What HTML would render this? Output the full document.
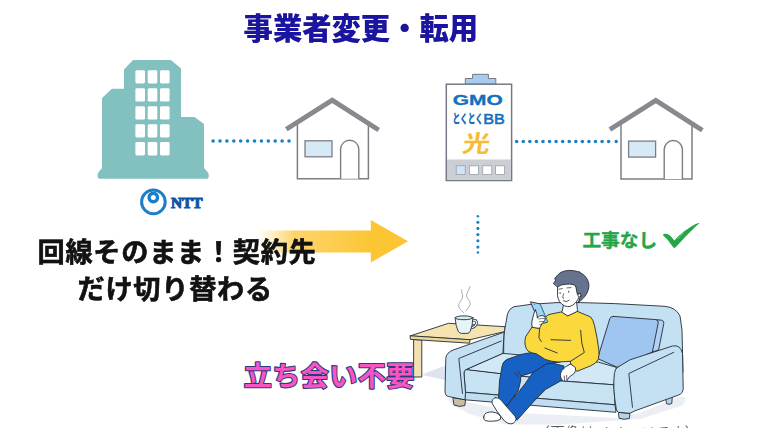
<!DOCTYPE html>
<html lang="ja">
<head>
<meta charset="utf-8">
<title>事業者変更・転用</title>
<style>
html,body{margin:0;padding:0;background:#fff;}
body{width:760px;height:428px;overflow:hidden;position:relative;font-family:"Liberation Sans","Noto Sans CJK JP",sans-serif;}
svg{position:absolute;left:0;top:0;display:block;}
.jp{font-family:"Liberation Sans","Noto Sans CJK JP",sans-serif;}
</style>
</head>
<body>
<svg width="760" height="428" viewBox="0 0 760 428">
<defs>
<linearGradient id="arrowg" x1="258" y1="0" x2="372" y2="0" gradientUnits="userSpaceOnUse">
<stop offset="0" stop-color="#fdd567" stop-opacity="0"/>
<stop offset="0.32" stop-color="#fdd05a" stop-opacity="0.9"/>
<stop offset="1" stop-color="#fbc534" stop-opacity="1"/>
</linearGradient>
</defs>
<rect width="760" height="428" fill="#ffffff"/>

<!-- NTT office building -->
<g id="ntt-building" fill="#83c0c0">
<path d="M102 170 L102 98 L112 88.8 L124 88.8 L124 69.5 L133 60 L171 60 L181 68.5 L181 117 L194.5 117 L204 124 L204 170 Z"/>
<path d="M101.5 168.5 L204.5 168.5 L208.3 173 Q209.8 178.8 206.5 178.8 L100 178.8 Q96.6 178.8 98 173 Z"/>
</g>
<g id="ntt-windows" fill="#ffffff">
<rect x="135.4" y="70.2" width="9.6" height="13.3" rx="1.4"/><rect x="147.7" y="70.2" width="9.6" height="13.3" rx="1.4"/><rect x="160" y="70.2" width="9.6" height="13.3" rx="1.4"/>
<rect x="135.4" y="88.3" width="9.6" height="13.3" rx="1.4"/><rect x="147.7" y="88.3" width="9.6" height="13.3" rx="1.4"/><rect x="160" y="88.3" width="9.6" height="13.3" rx="1.4"/>
<rect x="135.4" y="106.3" width="9.6" height="13.3" rx="1.4"/><rect x="147.7" y="106.3" width="9.6" height="13.3" rx="1.4"/><rect x="160" y="106.3" width="9.6" height="13.3" rx="1.4"/>
<rect x="135.4" y="124.2" width="9.6" height="13.3" rx="1.4"/><rect x="147.7" y="124.2" width="9.6" height="13.3" rx="1.4"/><rect x="160" y="124.2" width="9.6" height="13.3" rx="1.4"/>
<rect x="135.4" y="142.1" width="9.6" height="13.3" rx="1.4"/><rect x="147.7" y="142.1" width="9.6" height="13.3" rx="1.4"/><rect x="160" y="142.1" width="9.6" height="13.3" rx="1.4"/>
</g>

<!-- NTT logo -->
<g id="ntt-logo">
<circle cx="153.4" cy="201.9" r="11.8" fill="none" stroke="#1a7fc6" stroke-width="3"/>
<circle cx="153.3" cy="197.5" r="4.2" fill="none" stroke="#1a7fc6" stroke-width="3.4"/>
<text x="170.9" y="207.7" font-family="'Liberation Serif',serif" font-weight="700" font-size="15.6" fill="#0c55a8" stroke="#0c55a8" stroke-width="1.1" stroke-linejoin="round" textLength="31.6" lengthAdjust="spacingAndGlyphs">NTT</text>
</g>

<!-- dotted links -->
<g id="links" fill="#1a80c6">
<circle cx="213.10" cy="141" r="1.8"/><circle cx="220.00" cy="141" r="1.8"/><circle cx="226.90" cy="141" r="1.8"/><circle cx="233.80" cy="141" r="1.8"/><circle cx="240.70" cy="141" r="1.8"/><circle cx="247.60" cy="141" r="1.8"/><circle cx="254.50" cy="141" r="1.8"/><circle cx="261.40" cy="141" r="1.8"/><circle cx="268.30" cy="141" r="1.8"/><circle cx="275.20" cy="141" r="1.8"/><circle cx="282.10" cy="141" r="1.8"/><circle cx="289.00" cy="141" r="1.8"/>
<circle cx="516.70" cy="141.4" r="1.75"/><circle cx="523.27" cy="141.4" r="1.75"/><circle cx="529.83" cy="141.4" r="1.75"/><circle cx="536.40" cy="141.4" r="1.75"/><circle cx="542.96" cy="141.4" r="1.75"/><circle cx="549.53" cy="141.4" r="1.75"/><circle cx="556.09" cy="141.4" r="1.75"/><circle cx="562.66" cy="141.4" r="1.75"/><circle cx="569.22" cy="141.4" r="1.75"/><circle cx="575.79" cy="141.4" r="1.75"/><circle cx="582.35" cy="141.4" r="1.75"/><circle cx="588.92" cy="141.4" r="1.75"/><circle cx="595.48" cy="141.4" r="1.75"/><circle cx="602.05" cy="141.4" r="1.75"/><circle cx="608.61" cy="141.4" r="1.75"/><circle cx="616.2" cy="141.4" r="1.75"/>
<circle cx="477.9" cy="216.2" r="1.25"/><circle cx="477.9" cy="222.2" r="1.55"/><circle cx="477.9" cy="228.4" r="1.55"/><circle cx="477.9" cy="234.6" r="1.55"/><circle cx="477.9" cy="240.8" r="1.55"/><circle cx="477.9" cy="247.1" r="1.55"/><circle cx="477.9" cy="252.6" r="1.25"/>
</g>

<!-- house 1 -->
<g id="house1">
<path d="M297.4 124 V178.8 H368.4 V124" fill="#fff" stroke="#7d7d86" stroke-width="1.5"/>
<path d="M286.3 129.2 L332.2 100.1 L378.7 130" fill="none" stroke="#88888f" stroke-width="4.9" stroke-linejoin="miter"/>
<rect x="305" y="140.8" width="27" height="16" fill="#d6e9f6" stroke="#7d7d86" stroke-width="1.3"/>
<path d="M340.6 178.8 V149.3 A9.1 9.1 0 0 1 358.8 149.3 V178.8" fill="#fff" stroke="#7d7d86" stroke-width="1.4"/>
</g>
<!-- house 2 -->
<g id="house2" transform="translate(323.6,0.3)">
<path d="M297.4 124 V178.8 H368.4 V124" fill="#fff" stroke="#7d7d86" stroke-width="1.5"/>
<path d="M286.3 129.2 L332.2 100.1 L378.7 130" fill="none" stroke="#88888f" stroke-width="4.9" stroke-linejoin="miter"/>
<rect x="305" y="140.8" width="27" height="16" fill="#d6e9f6" stroke="#7d7d86" stroke-width="1.3"/>
<path d="M340.6 178.8 V149.3 A9.1 9.1 0 0 1 358.8 149.3 V178.8" fill="#fff" stroke="#7d7d86" stroke-width="1.4"/>
</g>

<!-- GMO building -->
<g id="gmo-building">
<path d="M465.3 84.2 V78.5 H472.6 V74.3 H488.4 V78.5 H495.8 V84.2 Z" fill="#a9cbee" stroke="#757a84" stroke-width="1"/>
<rect x="446.3" y="84.2" width="65.3" height="96.3" fill="#fff" stroke="#757a84" stroke-width="1.5"/>
<rect x="447" y="159.5" width="63.9" height="20.3" fill="#cbced4"/>
<rect x="456.2" y="165.8" width="9" height="8.6" fill="#cfe4f8" stroke="#9aa0aa" stroke-width="0.8"/>
<rect x="469.5" y="165.8" width="9" height="8.6" fill="#fff" stroke="#9aa0aa" stroke-width="0.8"/>
<rect x="482.7" y="165.8" width="9" height="8.6" fill="#fff" stroke="#9aa0aa" stroke-width="0.8"/>
<rect x="495.6" y="165.8" width="8.8" height="8.6" fill="#fff" stroke="#9aa0aa" stroke-width="0.8"/>
<text x="452.8" y="105.2" font-family="'Liberation Sans',sans-serif" font-weight="700" font-size="13.8" fill="#156fbb" stroke="#156fbb" stroke-width="0.3" textLength="50" lengthAdjust="spacingAndGlyphs">GMO</text>
<text x="452.4" y="123.4" class="jp" font-weight="900" font-size="12.6" fill="#156fbb" textLength="30.6" lengthAdjust="spacingAndGlyphs">とくとく</text>
<text x="483.2" y="124.4" font-family="'Liberation Sans',sans-serif" font-weight="400" font-size="14.6" fill="#156fbb" stroke="#156fbb" stroke-width="0.55" textLength="21.6" lengthAdjust="spacingAndGlyphs">BB</text>
<text x="0" y="0" class="jp" font-weight="700" font-size="23.5" fill="#f7bb36" transform="translate(461.6,152) skewX(-9) scale(1.17,1)">光</text>
</g>

<!-- arrow -->
<g id="arrow">
<rect x="256" y="230.5" width="116" height="22" fill="url(#arrowg)"/>
<path d="M370.8 220 L408 241.3 L370.8 262.5 Z" fill="#fbc534"/>
</g>

<!-- living room scene -->
<g id="scene" stroke="#232c38" stroke-width="0.9" stroke-linejoin="round" stroke-linecap="round">
<!-- floor shadow -->
<path d="M421.4 374.8 L446 365.2 L446 380.2 Z" fill="#dfe3f0" stroke="none"/>
<path d="M447 398 L466 402 L520 413 L618 418 L640 413 L678 397 L685 397 Q687 402 681 406 L640 419 L560 424.5 L505 424.5 L470 414 L452 405 Z" fill="#eceef6" stroke="none"/>
<!-- side table -->
<path d="M414 339.5 L421.8 340 L421.8 377 L414 377 Z" fill="#f2e0b0"/>
<path d="M410.5 335.8 L448.5 323.3 L505 326.7 L505 331.5 L470 339.7 Z" fill="#f5e3b0"/>
<path d="M410.5 335.8 L470 339.7 L469.6 343.2 L410.8 339.4 Z" fill="#edd596"/>
<!-- cup -->
<path d="M472.4 320.2 Q477 319.6 476.4 323.4 Q475.8 326.8 471.8 327.6" fill="none" stroke-width="2.8"/>
<path d="M472.4 320.2 Q477 319.6 476.4 323.4 Q475.8 326.8 471.8 327.6" fill="none" stroke="#eef7f8" stroke-width="1.2"/>
<path d="M455.1 317.9 Q455.6 326 458.2 331.3 Q459 333.2 461.5 333.4 L467 333.4 Q469.4 333.2 470.2 331.3 Q472.6 326 472.9 317.9 Z" fill="#e7f4f6"/>
<ellipse cx="464" cy="317.8" rx="8.9" ry="1.9" fill="#dbeef3"/>
<path d="M463.8 312.9 C460 309 457.5 307 459.2 303.5 C461 300 463.5 298 462.4 294.5 C461.6 292.5 461.4 291 461.8 289.6" fill="none" stroke="#84898f" stroke-width="0.7"/>
<path d="M465.9 310.8 C468 308 471 306 470 302.5 C469 299 465.6 297.5 466.8 294 C467.8 291 469.6 289 470.1 286.3" fill="none" stroke="#84898f" stroke-width="0.7"/>

<!-- sofa back -->
<path d="M503.5 372 L503.8 335 L507.5 313.8 Q509 308.5 514 306.6 L520 305.9 L531 304.3 L557 302.6 L580.5 302.6 L614.6 303.6 L665 306.3 Q676 307.5 680 316 L682 330 L683 372 Z" fill="#c4e1f3"/>
<!-- back cushion -->
<path d="M655.6 319.6 L661.5 320.2 Q664.4 320.8 663.8 323.6 L658.6 350 L652.4 352 Z" fill="#b3d1f3"/>
<path d="M613.5 316.4 L655.6 319.6 Q658.8 320 658.2 323 L652.4 352 L617.5 367.4 L597.6 358.6 L609.8 318.6 Q610.6 316.2 613.5 316.4 Z" fill="#9fc6f1"/>
<!-- seat -->
<path d="M502.5 353.5 L465.5 369.8 L562.5 381 L613.8 384.8 L616.3 367.3 L598.8 362.3 Z" fill="#d2e8f6"/>
<path d="M465.5 369.8 Q463.6 371.5 464 374 L465.5 392.3 L615 404.8 L613.8 384.8 L562.5 381 Z" fill="#c8e3f4"/>
<path d="M465.5 392.3 L615 404.8 L616 412.3 L465 399.8 Z" fill="#c0ddf1"/>
<!-- left foot of sofa -->
<path d="M453.2 397.6 L465.6 399.8 L464.8 405.6 Q459.5 407.4 454.4 405.2 Z" fill="#cbbda2"/>
<!-- left arm -->
<path d="M503.8 332.3 L475 342.3 L453.8 349.8 Q446 352.6 445.8 358.5 L445 391 Q445 396 448.8 396.6 L465 399.8 L465.5 392.3 L464 374 Q463.6 371.5 465.5 369.8 L502.5 353.5 Z" fill="#c4e1f3"/>
<path d="M501.3 341 L458.8 358.5 L462.5 393.5" fill="none"/>
<!-- right feet -->
<path d="M618.8 412.4 L630 413.4 L629.4 418.4 Q624 420.2 619.4 418.4 Z" fill="#b9d3e6"/>
<path d="M666 397.2 L672.4 395.4 L671.8 403.4 Q669 405.2 666.8 403.8 Z" fill="#b9d3e6"/>
<!-- right arm -->
<path d="M617.5 367.3 L630 359.8 L672.5 346 Q680.5 344.4 682.5 353.5 L683.2 388.5 Q683 393.6 678.6 395 L635 410.8 L630 413.3 L618.4 412.3 Q616.6 411.6 616.2 408.5 Q612.6 388 614.4 373.5 Q615 369 617.5 367.3 Z" fill="#c4e1f3"/>
<path d="M673.8 352.3 L628.8 373.5 L632.5 407.3" fill="none"/>

<!-- person : legs -->
<path d="M548 362 L564 366 L562.2 380.1 L545.8 389.3 L533.5 401.7 L517 420.2 L505.7 406.8 L519.6 390.7 L525.2 383.6 L533 372.4 Z" fill="#1761c4"/>
<path d="M540 351 L521.1 354.4 L506.7 359.5 Q502.6 362 502.2 365.7 L499.5 381.1 L498.5 398.6 L506.7 405.8 L518.2 390.7 L520.3 382.2 L521 376 L533 372.4 L546.3 364 L560 362 Z" fill="#1761c4"/>
<path d="M514.7 372.4 L518.2 376.6 M518.2 371.7 L521 375.4" fill="none" stroke-width="0.7"/>
<!-- feet -->
<path d="M483.7 417.1 Q483.8 414 486.2 413 Q489.5 411.6 492.3 412 Q496 412.5 498.5 414 Q501.5 416.5 500.6 419.2 Q497 421.4 492.3 421.2 Q488 421.4 485.1 420.6 Q483.4 419.4 483.7 417.1 Z" fill="#ffffff"/>
<path d="M495.4 397.6 Q498.6 397.6 500.6 399.6 L506.7 406.8 L515 416.1 Q517 419 515.4 421.2 Q513.6 423.8 510.8 423.9 Q507.5 423.6 504.7 421.2 L497.5 412 L492.3 403.7 Q491 399.2 495.4 397.6 Z" fill="#ffffff"/>
<!-- neck -->
<path d="M563.5 305 L562.2 311.2 L561.2 312.4 L568 316.2 L577.6 311.6 L577.4 309.6 L576.6 302 Z" fill="#ffffff"/>
<!-- sweater -->
<path d="M561 312 L549 314.5 Q546.5 315.6 545.2 317.7 L540.5 326 L532 327.1 L525.7 336.6 Q524.6 340.5 525 344.2 Q525.6 348.5 528 351 Q531.5 353.4 536 353.6 L545.2 359.4 Q551 361.6 557.8 362 L570.5 361.3 L570.5 363.2 L576.8 371.4 L590.7 365.8 Q596.5 363.4 598.2 359.4 Q599.4 355 598.9 350.6 L597 337.8 L594.4 325.2 Q593 319.5 590.7 317 L577.4 311.4 L568 315.8 Z" fill="#fbd93c"/>
<path d="M580.6 330.3 L581.8 343 L584.3 352.5 L570.5 361.3" fill="none"/>
<path d="M551 339.7 L570.5 340.4" fill="none"/>
<path d="M544.8 348 L557.2 353" fill="none"/>
<path d="M539.6 328.4 L538.9 337.8 L541.4 341.6" fill="none"/>
<path d="M532 327.1 L539.8 328.4" fill="none"/>
<!-- right hand -->
<path d="M570.5 363.9 L575.5 367.6 Q576.2 370.6 574.3 373.3 L569.2 377.1 L566.7 380.9 Q564.8 381.8 562.9 380.9 Q560.6 378.6 560.4 375.8 Q560.4 373 561.6 370.8 Q565 366.4 570.5 363.9 Z" fill="#ffffff"/>
<path d="M564.2 376 L564.6 380.6 M566.6 375.4 L566.8 379.6" fill="none" stroke-width="0.7"/>
<!-- phone -->
<path d="M530.8 301.9 L539.2 303.7 Q540.2 304 540.6 305 L547.8 322 L543.8 323.2 L538.4 320 Z" fill="#a3d4f1"/>
<path d="M539.2 303.7 Q540.2 304 540.6 305 L547.8 322 L546.9 322.3 L539.4 304.6 Z" fill="#5fb0e6" stroke="none"/>
<circle cx="534.6" cy="304.5" r="0.55" fill="#3b6ea8" stroke="none"/>
<!-- left hand -->
<path d="M535.5 309.9 Q533.6 313 533 317 Q531.6 321 531.7 325 L532.6 327.4 L539.4 328.4 Q541 325 543 322.4 Q545.6 320.6 545.1 319.1 Q545.5 317 544.3 316.2 Q542 315 539.5 316 Q538 316.6 537.4 318.2 Q537.2 313.5 535.5 309.9 Z" fill="#ffffff"/>
<path d="M538.6 319 Q541.4 317.8 544.6 318.6 M539.2 321.8 Q541.4 320.8 543.8 321.6 M539.6 324.6 Q540.8 324 542 324.2" fill="none" stroke-width="0.6"/>
<!-- head -->
<path d="M557.6 286.6 L557.5 295.5 Q558 299 559.4 301.4 Q561.5 304.5 564.7 305.9 Q567.5 307 570 306.4 Q573 305.4 575.2 303.1 Q577 301.4 578.1 299 L580 295 L578 287 L574 283 L560 284 Z" fill="#ffffff"/>
<circle cx="579.6" cy="295.2" r="1.7" fill="#ffffff"/>
<path d="M553.6 283.3 L555.5 280.6 L554.8 278.6 Q555.6 276.8 557.1 275.7 Q558.8 273.6 561.2 272.2 Q565 270.4 569.4 270.4 Q573.8 270.4 577.5 271.6 L579.8 271.9 L580.6 273 Q583 274 584.6 275.7 Q587.6 278.6 588.6 282.7 Q589.4 286.4 588.3 289.7 Q587.2 293.4 585.1 296.1 Q583.4 298.4 581 300.2 L578.1 303.1 L579.9 297.9 Q581.8 296.4 581 294.4 Q580 293 578.4 293.6 L577.5 294.6 L576.6 290.9 Q576.4 286.6 574.6 285 Q572 284.1 569.4 284.1 Q565 284.1 561.2 285 L557.7 286.8 Z" fill="#65738f"/>
<ellipse cx="560.1" cy="293.1" rx="0.55" ry="1" fill="#232c38" stroke="none"/>
<ellipse cx="568.8" cy="291.7" rx="0.55" ry="1" fill="#232c38" stroke="none"/>
<path d="M558.9 289.2 L562.4 288.5 M567 287.9 L571.1 287.6" fill="none" stroke-width="0.7"/>
<path d="M563.5 293.8 L562.7 297.8 L563.8 298.3" fill="none" stroke-width="0.7"/>
<path d="M563.4 300.8 Q566 302.8 569.2 300.4" fill="none" stroke-width="0.8"/>
</g>
<!-- caption cut by the bottom edge -->
<text x="535.2" y="438.3" class="jp" font-weight="300" font-size="14.5" fill="#333" textLength="164" lengthAdjust="spacing">（画像はイメージです）</text>

<!-- headline texts -->
<g id="texts" class="jp">
<text x="243.6" y="39" font-weight="900" font-size="29.3" fill="#1b14a0" style="filter:drop-shadow(0.6px 0.8px 0.6px rgba(60,60,90,0.45))">事業者変更・転用</text>
<text x="37.6" y="261.5" font-weight="700" font-size="27.2" letter-spacing="0.7" fill="#121212" stroke="#121212" stroke-width="0.5" style="filter:drop-shadow(0.6px 0.8px 0.7px rgba(60,60,60,0.4))">回線そのまま！契約先</text>
<text x="77.6" y="299.4" font-weight="700" font-size="27.2" letter-spacing="0.7" fill="#121212" stroke="#121212" stroke-width="0.5" style="filter:drop-shadow(0.6px 0.8px 0.7px rgba(60,60,60,0.4))">だけ切り替わる</text>
<text x="582.4" y="246.8" font-weight="700" font-size="18.7" fill="#25a646" stroke="#25a646" stroke-width="0.4">工事なし</text>
<text x="0" y="0" transform="translate(243.8,386.3) scale(1,0.955)" font-weight="700" font-size="28" letter-spacing="0.5" fill="#f755c4" stroke="#2c3a7c" stroke-width="2.2" paint-order="stroke fill" stroke-linejoin="round">立ち会い不要</text>
</g>
<!-- check mark -->
<path id="check" d="M662.8 235.1 Q664 233.4 666 233.8 Q668.6 234.2 670.5 236 L674.4 240.4 Q678.5 235.5 683.9 231.5 Q690 227 695.2 224.3 Q698 223 699.8 223 Q696 225.8 693.2 229 Q688.5 233.5 684.9 237.2 Q681 241.5 678.8 243.9 L674.4 248.2 Q673.4 248 672.6 246.6 Q668.5 240 662.8 235.1 Z" fill="#25a646"/>
<path d="M677.6 238.8 L683.4 232.6" stroke="#ffffff" stroke-width="0.5" opacity="0.75" fill="none"/>

</svg>
</body>
</html>
